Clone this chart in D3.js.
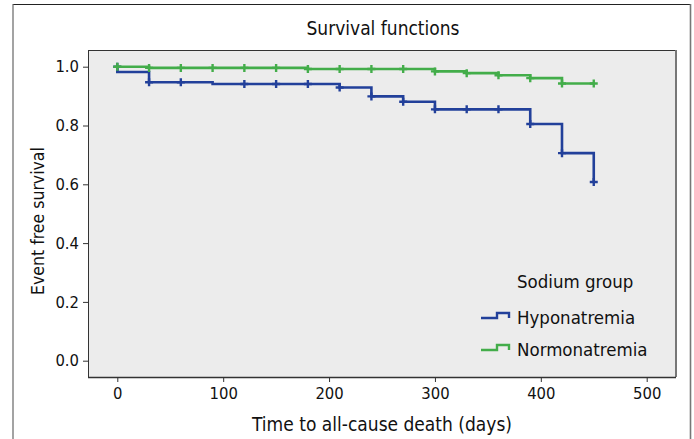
<!DOCTYPE html>
<html><head><meta charset="utf-8">
<script src="https://cdn.jsdelivr.net/npm/d3@7"></script>
<style>body{margin:0;background:#fff;} text{font-family:"DejaVu Sans Condensed","Liberation Sans Narrow",sans-serif;}</style>
</head><body>
<svg id="c" width="694" height="439"></svg>
<script>
const times = [0, 30, 60, 90, 120, 150, 180, 210, 240, 270, 300, 330, 360, 390, 420, 450];
const hypoSurv = [0.982, 0.947, 0.947, 0.941, 0.941, 0.941, 0.941, 0.929, 0.899, 0.881, 0.855, 0.855, 0.855, 0.805, 0.706, 0.608];
const hypoCensor = [0, 30, 60, 120, 150, 180, 210, 240, 270, 300, 330, 360, 390, 420, 450];
const normoSurv = [1.0, 0.996, 0.996, 0.996, 0.996, 0.996, 0.992, 0.992, 0.992, 0.992, 0.984, 0.978, 0.971, 0.961, 0.943, 0.943];
const normoCensor = [0, 30, 60, 90, 120, 150, 180, 210, 240, 270, 300, 330, 360, 390, 420, 450];
const xTicks = [0, 100, 200, 300, 400, 500];
const yTicks = [0.0, 0.2, 0.4, 0.6, 0.8, 1.0];
const seriesNames = ["Hyponatremia", "Normonatremia"];
const colors = ["#22409a", "#43ad4a"];

const svg = d3.select("#c");
const L = 88, R = 676, T = 50, B = 377;
const x = d3.scaleLinear().domain([0, 500]).range([117.3, 646.7]);
const y = d3.scaleLinear().domain([0, 1]).range([360.7, 66.7]);

// outer frame
svg.append("line").attr("x1",13).attr("x2",691).attr("y1",4.5).attr("y2",4.5).attr("stroke","#222").attr("stroke-width",1.2);
svg.append("line").attr("x1",13).attr("x2",13).attr("y1",4).attr("y2",439).attr("stroke","#666").attr("stroke-width",1.2);
svg.append("line").attr("x1",690.5).attr("x2",690.5).attr("y1",4).attr("y2",439).attr("stroke","#777").attr("stroke-width",1.6);

// plot background
svg.append("rect").attr("x",L).attr("y",T).attr("width",R-L).attr("height",B-T).attr("fill","#ececec");
svg.append("line").attr("x1",L).attr("x2",R).attr("y1",T+0.5).attr("y2",T+0.5).attr("stroke","#333").attr("stroke-width",1);
svg.append("line").attr("x1",L+0.5).attr("x2",L+0.5).attr("y1",T).attr("y2",B).attr("stroke","#333").attr("stroke-width",1);
svg.append("line").attr("x1",R).attr("x2",R).attr("y1",T).attr("y2",B).attr("stroke","#777").attr("stroke-width",2);

// axes
const xAxis = svg.append("g").attr("transform",`translate(0,${B})`)
  .call(d3.axisBottom(x).tickValues(xTicks).tickSize(5).tickPadding(5).tickFormat(d3.format("d")));
xAxis.select(".domain").attr("d",`M${L},0.5H${R}`).attr("stroke","#333").attr("stroke-width",1.5);
const yAxis = svg.append("g").attr("transform",`translate(${L},0)`)
  .call(d3.axisLeft(y).tickValues(yTicks).tickSize(5).tickPadding(4).tickFormat(d3.format(".1f")));
yAxis.select(".domain").remove();
svg.selectAll(".tick line").attr("stroke","#333");
svg.selectAll(".tick text").attr("font-size",16.5).attr("fill","#111")
  .style("font-family",'"DejaVu Sans Condensed","Liberation Sans Narrow",sans-serif');

// title & labels
svg.append("text").attr("x",383).attr("y",35).attr("text-anchor","middle").attr("font-size",19).attr("fill","#111").text("Survival functions");
svg.append("text").attr("x",382).attr("y",431).attr("text-anchor","middle").attr("font-size",19).attr("fill","#111").text("Time to all-cause death (days)");
svg.append("text").attr("transform","translate(44,221) rotate(-90)").attr("text-anchor","middle").attr("font-size",17.5).attr("fill","#111").text("Event free survival");

// KM curves
function stepPoints(surv){
  const pts = [[0,1]];
  let prev = 1;
  times.forEach((t,i)=>{ pts.push([t,prev]); pts.push([t,surv[i]]); prev = surv[i]; });
  return pts;
}
const line = d3.line().x(d=>x(d[0])).y(d=>y(d[1]));
const all = [
  {surv: hypoSurv, censor: hypoCensor, color: colors[0]},
  {surv: normoSurv, censor: normoCensor, color: colors[1]}
];
all.forEach(s=>{
  svg.append("path").attr("d",line(stepPoints(s.surv))).attr("fill","none").attr("stroke",s.color).attr("stroke-width",2.6);
  s.censor.forEach(t=>{
    const i = times.indexOf(t);
    const v = (t===0 && s.surv[0] < 1) ? 1 : s.surv[i];
    const cx = x(t), cy = y(v);
    svg.append("path").attr("d",`M${cx-4},${cy}H${cx+4}M${cx},${cy-4}V${cy+4}`).attr("stroke",s.color).attr("stroke-width",2.4);
  });
});

// legend
svg.append("text").attr("x",517).attr("y",288).attr("font-size",18.5).attr("fill","#111").text("Sodium group");
seriesNames.forEach((n,i)=>{
  const ly = 318 + i*32;
  svg.append("path").attr("d",`M481,${ly}H497V${ly-5}H509V${ly}`).attr("fill","none").attr("stroke",colors[i]).attr("stroke-width",2.4);
  svg.append("text").attr("x",517).attr("y",ly+6).attr("font-size",18.5).attr("fill","#111").text(n);
});
</script>
</body></html>
